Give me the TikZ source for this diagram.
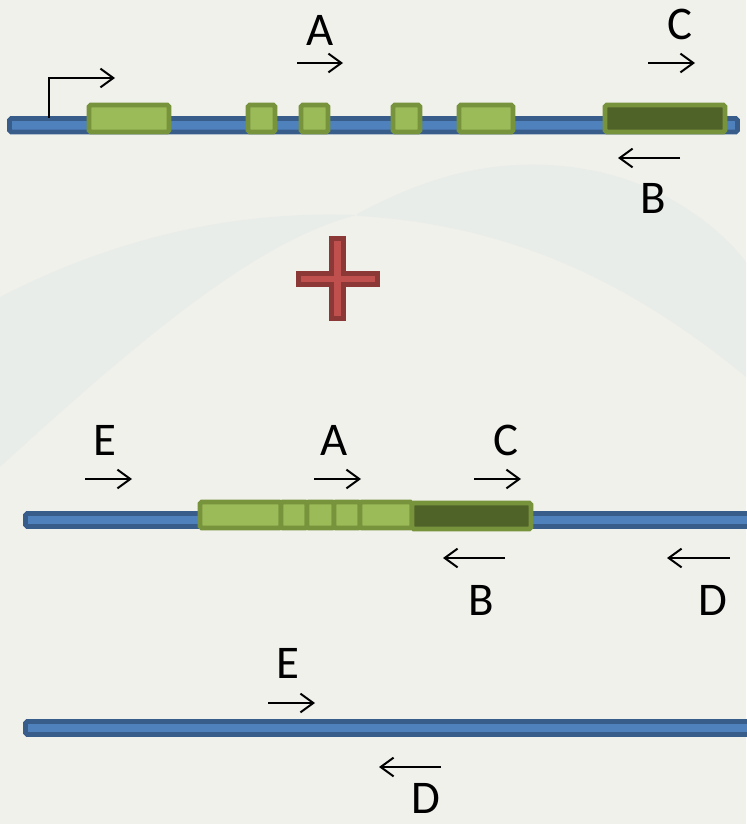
\documentclass[tikz,border=0pt]{standalone}
\usepackage{fontspec}
\setmainfont{Carlito}
\definecolor{slidebg}{RGB}{241, 241, 236}
\definecolor{swoosh}{RGB}{233, 237, 233}
\definecolor{dnablue}{RGB}{79, 129, 189}
\definecolor{dnaedge}{RGB}{56, 93, 138}
\definecolor{exgreen}{RGB}{155, 187, 89}
\definecolor{exedge}{RGB}{119, 147, 60}
\definecolor{exdark}{RGB}{79, 98, 40}
\definecolor{plusred}{RGB}{192, 80, 77}
\definecolor{plusedge}{RGB}{140, 56, 54}
\usetikzlibrary{arrows.meta, positioning}

\tikzset{
  dna/.style={draw=dnaedge, fill=dnablue, line width=4.2pt, rounded corners=1.5pt},
  exon/.style={draw=exedge, fill=exgreen, line width=4.2pt, rounded corners=1.5pt},
  exondark/.style={exon, fill=exdark},
  primer/.style={-{Straight Barb[length=11pt, width=16pt]}, line width=1.7pt, black},
  lbl/.style={font=\fontsize{40}{44}\selectfont, inner sep=0pt},
}

\begin{document}
\begin{tikzpicture}[x=0.03cm, y=-0.03cm]
  % Slide background
  \fill[slidebg] (0,0) rectangle (746,824);
  \useasboundingbox (0,0) rectangle (746,824);
  \fill[swoosh] (0,297) .. controls (110,240) and (230,210) .. (357,215)
    .. controls (260,240) and (150,330) .. (0,467) -- cycle;
  \fill[swoosh] (357,214) .. controls (420,180) and (500,150) .. (600,172)
    .. controls (680,190) and (730,240) .. (746,262) -- (746,377)
    .. controls (640,290) and (520,225) .. (357,216) -- cycle;

  % Gene with exons (top)
  \draw[dna] (9.5,118.5) rectangle (737.5,132);
  \draw[exon] (89,105) rectangle (169,132);
  \draw[exon] (248,105) rectangle (275,132);
  \draw[exon] (301,105) rectangle (328,132);
  \draw[exon] (393,105) rectangle (420,132);
  \draw[exon] (459,105) rectangle (513,132);
  \draw[exondark] (605,105) rectangle (725,132);

  % Transcription start
  \coordinate (tss) at (49,118);
  \coordinate (tssend) at (115,78);
  \draw[primer] (tss) |- (tssend);

  % Primers on the gene
  \node[lbl] (labA1) at (320,30) {A};
  \coordinate (A1s) at (297,63);
  \coordinate (A1e) at (343,63);
  \draw[primer] (A1s) -- (A1e);

  \node[lbl] (labC1) at (680,24) {C};
  \coordinate (C1s) at (648,63);
  \coordinate (C1e) at (695,63);
  \draw[primer] (C1s) -- (C1e);

  \node[lbl] (labB1) at (653,198) {B};
  \coordinate (B1s) at (680,158);
  \coordinate (B1e) at (618,158);
  \draw[primer] (B1s) -- (B1e);

  % Plus sign
  \draw[fill=plusred, draw=plusedge, line width=4.2pt]
    (331.5,238.5) -- (343.5,238.5) -- (343.5,273.5) -- (377.5,273.5)
    -- (377.5,284.5) -- (343.5,284.5) -- (343.5,318.5) -- (331.5,318.5)
    -- (331.5,284.5) -- (298.5,284.5) -- (298.5,273.5) -- (331.5,273.5) -- cycle;

  % Processed copy inserted in the genome
  \draw[dna] (25.5,513.5) rectangle (752,526.5);
  \draw[exon] (200,502) rectangle (281,528);
  \draw[exon] (281,502) rectangle (307,528);
  \draw[exon] (307,502) rectangle (334,528);
  \draw[exon] (334,502) rectangle (360,528);
  \draw[exon] (360,502) rectangle (412,528);
  \draw[exondark] (412,503) rectangle (531,529);

  \node[lbl] (labE2) at (105,440) {E};
  \coordinate (E2s) at (85,479);
  \coordinate (E2e) at (132,479);
  \draw[primer] (E2s) -- (E2e);

  \node[lbl] (labA2) at (334,440) {A};
  \coordinate (A2s) at (314,479);
  \coordinate (A2e) at (361,479);
  \draw[primer] (A2s) -- (A2e);

  \node[lbl] (labC2) at (506,440) {C};
  \coordinate (C2s) at (474,479);
  \coordinate (C2e) at (521,479);
  \draw[primer] (C2s) -- (C2e);

  \node[lbl] (labB2) at (481,600) {B};
  \coordinate (B2s) at (505,558);
  \coordinate (B2e) at (443,558);
  \draw[primer] (B2s) -- (B2e);

  \node[lbl] (labD2) at (713,600) {D};
  \coordinate (D2s) at (730,558);
  \coordinate (D2e) at (667,558);
  \draw[primer] (D2s) -- (D2e);

  % Empty site (bottom)
  \draw[dna] (25.5,721.5) rectangle (752,734.5);

  \node[lbl] (labE3) at (288,663) {E};
  \coordinate (E3s) at (268,703);
  \coordinate (E3e) at (315,703);
  \draw[primer] (E3s) -- (E3e);

  \node[lbl] (labD3) at (426,798) {D};
  \coordinate (D3s) at (441,767);
  \coordinate (D3e) at (379,767);
  \draw[primer] (D3s) -- (D3e);
\end{tikzpicture}
\end{document}
